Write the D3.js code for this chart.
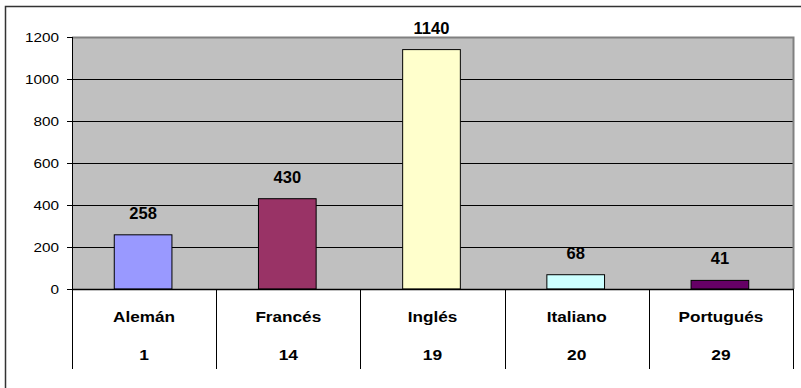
<!DOCTYPE html>
<html>
<head>
<meta charset="utf-8">
<script src="https://cdn.jsdelivr.net/npm/d3@7"></script>
<style>
  body { margin: 0; background: #fff; }
  svg { display: block; font-family: "Liberation Sans", Arial, sans-serif; }
</style>
</head>
<body>
<div id="chart"></div>
<script>
const languages = ['Alemán', 'Francés', 'Inglés', 'Italiano', 'Portugués'];
const codes = ['1', '14', '19', '20', '29'];
const counts = [258, 430, 1140, 68, 41];
const barColors = ['#9999FF', '#993366', '#FFFFCC', '#CCFFFF', '#660066'];
const yTicks = [0, 200, 400, 600, 800, 1000, 1200];

const W = 801, H = 388;
const plot = { left: 72, right: 793, top: 37, bottom: 289 };
const stretch = 1.16; // text in the original is drawn a bit wider than tall

const svg = d3.select('#chart').append('svg')
    .attr('width', W)
    .attr('height', H);

// outer chart border (only top and left are visible)
svg.append('rect')
    .attr('x', 5.5).attr('y', 6.5)
    .attr('width', W + 20).attr('height', H + 20)
    .attr('fill', 'none')
    .attr('stroke', '#333')
    .attr('stroke-width', 1.5);

const x = d3.scaleBand()
    .domain(languages)
    .range([plot.left, plot.right])
    .paddingInner(0)
    .paddingOuter(0);

const y = d3.scaleLinear()
    .domain([0, 1200])
    .range([plot.bottom, plot.top]);

// plot background
svg.append('rect')
    .attr('x', plot.left).attr('y', plot.top)
    .attr('width', plot.right - plot.left)
    .attr('height', plot.bottom - plot.top)
    .attr('fill', '#C0C0C0');

// gridlines
svg.append('g')
    .selectAll('line')
    .data(yTicks.filter(d => d > 0 && d < 1200))
    .join('line')
    .attr('x1', plot.left).attr('x2', plot.right)
    .attr('y1', d => Math.round(y(d)) + 0.5)
    .attr('y2', d => Math.round(y(d)) + 0.5)
    .attr('stroke', '#000')
    .attr('stroke-width', 1);

// plot frame top & right
svg.append('path')
    .attr('d', `M${plot.left},${plot.top + 0.5}H${plot.right + 0.5}V${plot.bottom}`)
    .attr('fill', 'none')
    .attr('stroke', '#808080')
    .attr('stroke-width', 2);

// bars
const barW = x.bandwidth() * 0.4;
svg.append('g')
    .selectAll('rect')
    .data(languages)
    .join('rect')
    .attr('x', (d) => x(d) + x.bandwidth() / 2 - barW / 2 - 1)
    .attr('y', (d, i) => y(counts[i]))
    .attr('width', barW)
    .attr('height', (d, i) => y(0) - y(counts[i]))
    .attr('fill', (d, i) => barColors[i])
    .attr('stroke', '#000')
    .attr('stroke-width', 1);

// value labels
svg.append('g')
    .selectAll('text')
    .data(languages)
    .join('text')
    .attr('x', d => x(d) + x.bandwidth() / 2 - 1)
    .attr('y', (d, i) => y(counts[i]) - 16)
    .attr('text-anchor', 'middle')
    .attr('font-size', 16.5)
    .attr('font-weight', 'bold')
    .text((d, i) => counts[i]);

// y axis (ticks only, labels drawn below)
const yAxis = svg.append('g')
    .attr('transform', `translate(${plot.left},0)`)
    .call(d3.axisLeft(y).tickValues(yTicks).tickSize(5).tickFormat(''));
yAxis.select('.domain').attr('stroke', '#000').attr('d', `M0.5,${plot.top}V${plot.bottom + 1}`);
yAxis.selectAll('.tick line').attr('stroke', '#000');

svg.append('g')
    .selectAll('text')
    .data(yTicks)
    .join('text')
    .attr('transform', d => `translate(59,${y(d) + 4.5}) scale(1.15,1)`)
    .attr('text-anchor', 'end')
    .attr('font-size', 13.3)
    .text(d => d3.format('d')(d));

// category table under plot
svg.append('line')
    .attr('x1', plot.left).attr('x2', plot.right + 1)
    .attr('y1', plot.bottom + 0.5).attr('y2', plot.bottom + 0.5)
    .attr('stroke', '#000').attr('stroke-width', 1.5);

const seps = languages.map(d => x(d)).concat([plot.right]);
svg.append('g')
    .selectAll('line')
    .data(seps)
    .join('line')
    .attr('x1', d => Math.round(d) + 0.5).attr('x2', d => Math.round(d) + 0.5)
    .attr('y1', plot.bottom).attr('y2', 369)
    .attr('stroke', '#000').attr('stroke-width', 1);

svg.append('g')
    .selectAll('text')
    .data(languages)
    .join('text')
    .attr('transform', d => `translate(${x(d) + x.bandwidth() / 2},322) scale(${stretch},1)`)
    .attr('text-anchor', 'middle')
    .attr('font-size', 14.8)
    .attr('font-weight', 'bold')
    .text(d => d);

svg.append('g')
    .selectAll('text')
    .data(languages)
    .join('text')
    .attr('transform', d => `translate(${x(d) + x.bandwidth() / 2},360) scale(${stretch},1)`)
    .attr('text-anchor', 'middle')
    .attr('font-size', 15)
    .attr('font-weight', 'bold')
    .text((d, i) => codes[i]);
</script>
</body>
</html>
